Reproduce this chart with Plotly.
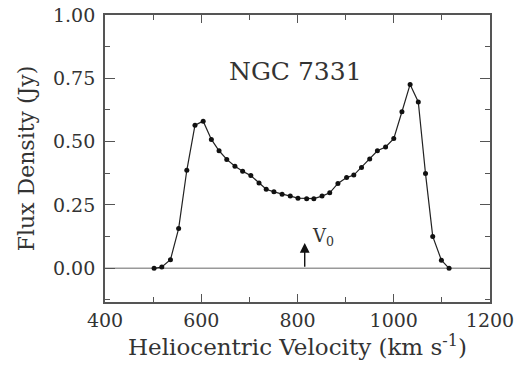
import plotly.graph_objects as go

velocity = [502, 518, 536, 553, 570, 587, 604, 621, 637, 653, 670, 686, 703, 720, 735,
            751, 768, 785, 801, 819, 834, 851, 867, 884, 902, 917, 933, 950, 966, 983,
            1000, 1017, 1034, 1051, 1066, 1081, 1099, 1115]
flux = [0.0, 0.005, 0.034, 0.157, 0.387, 0.565, 0.581, 0.509, 0.464, 0.430, 0.403, 0.383,
        0.366, 0.337, 0.312, 0.302, 0.292, 0.285, 0.277, 0.275, 0.275, 0.285, 0.298, 0.335,
        0.358, 0.368, 0.398, 0.432, 0.464, 0.479, 0.512, 0.618, 0.726, 0.657, 0.374, 0.126,
        0.032, 0.0]
v0 = 815
v0_arrow_top = 0.1
galaxy = "NGC 7331"
x_ticks = [400, 600, 800, 1000, 1200]
y_ticks = [0.0, 0.25, 0.5, 0.75, 1.0]

FONT = "DejaVu Serif"
AX = "#555555"
TXT = "#333333"

fig = go.Figure()
# zero baseline
fig.add_trace(go.Scatter(x=[400, 1200], y=[0, 0], mode="lines",
                         line=dict(color="#999999", width=1.5), hoverinfo="skip"))
fig.add_trace(go.Scatter(x=velocity, y=flux, mode="lines+markers",
                         line=dict(color="#222222", width=1.2),
                         marker=dict(color="#111111", size=5)))

fig.add_annotation(x=v0, y=v0_arrow_top, ax=v0, ay=0, xref="x", yref="y",
                   axref="x", ayref="y", showarrow=True, arrowhead=2,
                   arrowsize=1.4, arrowwidth=1.4, arrowcolor="#111111", text="")
fig.add_annotation(x=v0 + 12, y=0.125, xref="x", yref="y", text="V<sub>0</sub>",
                   showarrow=False, xanchor="left", font=dict(family=FONT, size=18, color=TXT))
fig.add_annotation(x=796, y=0.775, xref="x", yref="y", text=galaxy, showarrow=False,
                   font=dict(family=FONT, size=25, color=TXT))

axis_common = dict(showline=True, linecolor=AX, linewidth=1.8, mirror="ticks",
                   ticks="inside", tickcolor=AX, tickwidth=1.3, showgrid=False,
                   zeroline=False, tickfont=dict(family=FONT, size=19, color=TXT))

fig.update_xaxes(range=[400, 1200], tickvals=x_ticks, ticklen=8,
                 minor=dict(dtick=100, tick0=400, ticks="inside", ticklen=5, tickcolor=AX, tickwidth=1.3),
                 title=dict(text="Heliocentric Velocity (km s<sup>-1</sup>)",
                            font=dict(family=FONT, size=23, color=TXT), standoff=2),
                 **axis_common)
fig.update_yaxes(range=[-0.133, 1.0], tickvals=y_ticks, tickformat=".2f", ticklen=10,
                 ticklabelstandoff=4,
                 minor=dict(dtick=0.125, tick0=0, ticks="inside", ticklen=5, tickcolor=AX, tickwidth=1.3),
                 title=dict(text="Flux Density (Jy)",
                            font=dict(family=FONT, size=22, color=TXT), standoff=12),
                 **axis_common)

fig.update_layout(width=517, height=371, showlegend=False,
                  margin=dict(l=105, r=27, t=15, b=69, autoexpand=False),
                  plot_bgcolor="white", paper_bgcolor="white")

fig.write_html("out.html", config={"displayModeBar": False},
               post_script="document.body.style.margin='0';document.body.style.overflow='hidden';")
